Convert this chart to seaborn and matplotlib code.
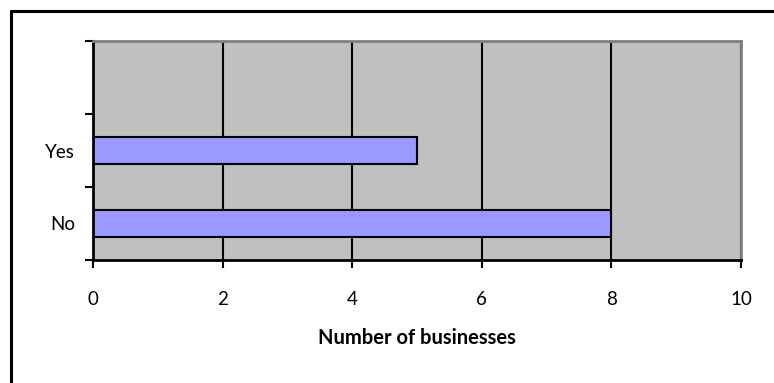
import matplotlib
matplotlib.use("Agg")
import matplotlib.pyplot as plt
import seaborn as sns
import pandas as pd
from matplotlib.lines import Line2D

# Survey answers and counts
answers = ["Yes", "No"]
counts = [5, 8]
# Category slots from top to bottom; the top slot is left blank
slot_order = [" ", "Yes", "No"]
x_ticks = [0, 2, 4, 6, 8, 10]
x_title = "Number of businesses"

sns.set_theme(style="white")
plt.rcParams["font.family"] = ["Lato", "DejaVu Sans"]

df = pd.DataFrame({"answer": answers, "count": counts})

fig = plt.figure(figsize=(7.74, 3.83), dpi=100)
ax = fig.add_axes([93 / 774, 1 - 260 / 383, 648 / 774, 219 / 383])
ax.set_facecolor("#C0C0C0")

sns.barplot(data=df, x="count", y="answer", order=slot_order, orient="h",
            color="#9999FF", saturation=1, width=0.38,
            edgecolor="black", linewidth=1.5, ax=ax)

ax.set_xlim(x_ticks[0], x_ticks[-1])
ax.set_ylim(2.5, -0.5)
ax.set_xticks(x_ticks)
ax.set_xticklabels([str(t) for t in x_ticks])

# Boundary ticks between categories, labels at category centres
ax.set_yticks([-0.5, 0.5, 1.5, 2.5])
ax.set_yticklabels([])
ax.set_yticks([0, 1, 2], minor=True)
ax.set_yticklabels(slot_order, minor=True)
ax.tick_params(axis="y", which="minor", length=0, pad=13, labelsize=13.5, labelcolor="black")
ax.tick_params(axis="y", which="major", length=6, width=1.5, color="black", left=True)
ax.tick_params(axis="x", length=6, width=1.5, color="black", bottom=True,
               labelsize=13.5, labelcolor="black", pad=16)

ax.xaxis.grid(True, color="black", linewidth=1.5)
ax.yaxis.grid(False)
ax.set_axisbelow(True)

for side in ("left", "bottom"):
    ax.spines[side].set_color("black")
    ax.spines[side].set_linewidth(2)
for side in ("top", "right"):
    ax.spines[side].set_color("#808080")
    ax.spines[side].set_linewidth(2)

ax.set_ylabel("")
ax.set_xlabel(x_title, fontsize=14.5, fontweight="bold", color="black", labelpad=15)

# Outer frame of the chart area
fig.add_artist(Line2D([10.5 / 774, 1], [1 - 10.5 / 383, 1 - 10.5 / 383],
                      transform=fig.transFigure, color="black", linewidth=2.2))
fig.add_artist(Line2D([10.5 / 774, 10.5 / 774], [0, 1 - 10.5 / 383],
                      transform=fig.transFigure, color="black", linewidth=2.2))

fig.savefig("out.png", dpi=100, facecolor="white")
